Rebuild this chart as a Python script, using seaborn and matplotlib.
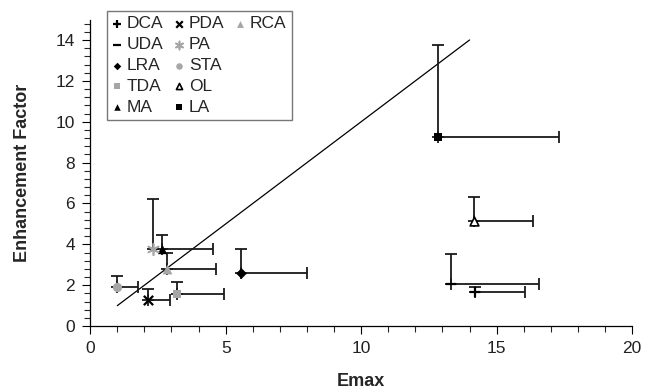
import numpy as np
import pandas as pd
import seaborn as sns
import matplotlib.pyplot as plt
from matplotlib.lines import Line2D
from matplotlib.ticker import MultipleLocator

# values
names = ["DCA", "UDA", "LRA", "TDA", "MA", "PDA", "PA", "STA", "OL", "LA", "RCA"]
emax = [14.2, 13.3, 5.55, 3.2, 2.65, 2.15, 2.3, 1.0, 14.15, 12.85, 2.85]
enh = [1.65, 2.05, 2.6, 1.55, 3.75, 1.3, 3.75, 1.9, 5.15, 9.25, 2.8]
emax_err = [1.85, 3.25, 2.45, 1.75, 1.9, 0.8, 0.0, 0.75, 2.2, 4.45, 1.8]
enh_err = [0.25, 1.5, 1.15, 0.6, 0.7, 0.5, 2.45, 0.55, 1.15, 4.5, 0.8]
ref_x = [1, 14]
ref_y = [1, 14]

markers = {"DCA": "+", "UDA": "_", "LRA": "D", "TDA": "s", "MA": "^", "PDA": "x",
           "PA": (6, 2, 0), "STA": "o", "OL": "^", "LA": "s", "RCA": "^"}
grey = "#a6a6a6"
colors = {"DCA": "black", "UDA": "black", "LRA": "black", "TDA": grey, "MA": "black",
          "PDA": "black", "PA": grey, "STA": grey, "OL": "black", "LA": "black", "RCA": grey}
sizes = {"DCA": 60, "UDA": 60, "LRA": 30, "TDA": 38, "MA": 45, "PDA": 45,
         "PA": 70, "STA": 45, "OL": 40, "LA": 38, "RCA": 50}

df = pd.DataFrame({"name": names, "emax": emax, "enh": enh,
                   "emax_err": emax_err, "enh_err": enh_err})

sns.set_style("ticks")
plt.rcParams['font.family'] = ['Liberation Sans', 'DejaVu Sans']

fig = plt.figure(figsize=(6.49, 3.91), dpi=100)
ax = fig.add_axes([0.139, 0.166, 0.835, 0.784])

sns.lineplot(x=ref_x, y=ref_y, color="black", linewidth=0.9, ax=ax, legend=False)

for _, r in df.iterrows():
    xe = [[0], [r["emax_err"]]] if r["emax_err"] > 0 else None
    ax.errorbar(r["emax"], r["enh"], xerr=xe, yerr=[[0], [r["enh_err"]]], fmt="none",
                ecolor="#1a1a1a", elinewidth=1.3, capsize=4.5, capthick=1.3, zorder=2)

handles = {}
for _, r in df.iterrows():
    n = r["name"]
    face = "white" if n == "OL" else colors[n]
    lw = 1.6 if markers[n] in ["+", "_", "x"] else (1.2 if n in ["OL", "PA"] else 0)
    sns.scatterplot(x=[r["emax"]], y=[r["enh"]], marker=markers[n], s=sizes[n],
                    color=face, edgecolor=colors[n], linewidth=lw, ax=ax, zorder=3)
    handles[n] = ax.collections[-1]

blank = Line2D([], [], linestyle="none", marker="")
order = ["DCA", "UDA", "LRA", "TDA", "MA", "PDA", "PA", "STA", "OL", "LA", "RCA"]
leg_h = [handles[n] for n in order] + [blank] * 4
leg_l = order + [""] * 4
leg = ax.legend(leg_h, leg_l, ncol=3, loc="upper left",
                bbox_to_anchor=(107 / 649, 1 - 11 / 391), bbox_transform=fig.transFigure,
                borderaxespad=0, fontsize=12.5, frameon=True, fancybox=False,
                handlelength=0.55, handletextpad=0.3, columnspacing=0.6,
                labelspacing=0.33, borderpad=0.3, markerscale=0.7)
leg.get_frame().set_edgecolor("#555555")
leg.get_frame().set_linewidth(1.0)

ax.set_xlim(0, 20)
ax.set_ylim(0, 15)
ax.xaxis.set_major_locator(MultipleLocator(5))
ax.xaxis.set_minor_locator(MultipleLocator(1))
ax.yaxis.set_major_locator(MultipleLocator(2))
ax.yaxis.set_minor_locator(MultipleLocator(0.4))
ax.tick_params(axis="both", which="major", labelsize=12.5, length=6, width=0.8,
               colors="black", labelcolor="#222222", pad=5)
ax.tick_params(axis="both", which="minor", length=4.5, width=0.8)
for s in ["top", "right"]:
    ax.spines[s].set_visible(False)
for s in ["left", "bottom"]:
    ax.spines[s].set_linewidth(0.9)
    ax.spines[s].set_color("black")

ax.set_xlabel("Emax", fontsize=13, fontweight="bold", labelpad=12)
ax.set_ylabel("Enhancement Factor", fontsize=13, fontweight="bold", labelpad=18)

fig.savefig("out.png", dpi=100)
